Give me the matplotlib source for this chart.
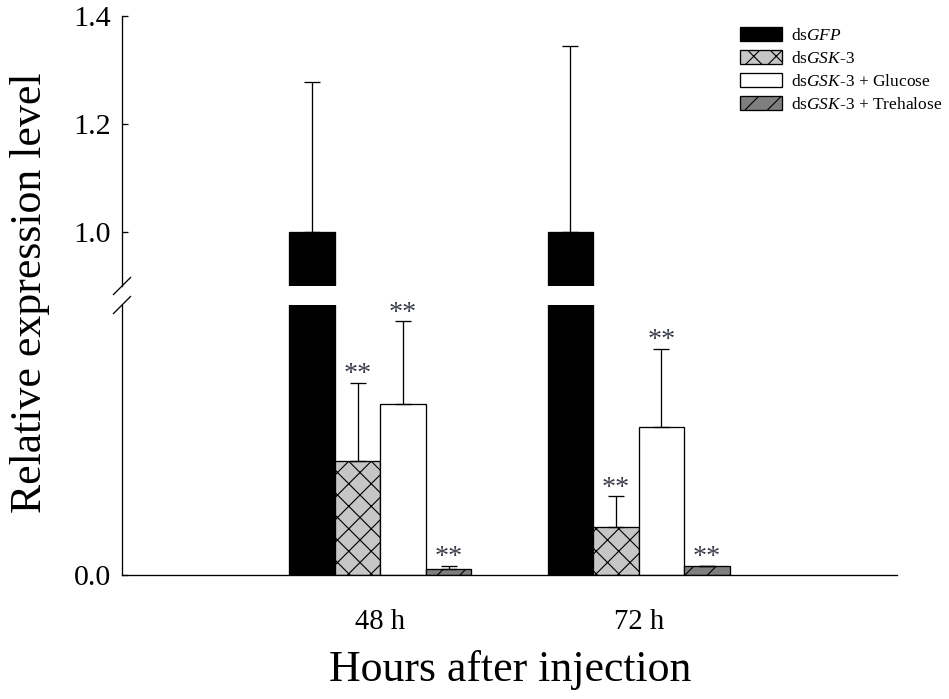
import matplotlib
matplotlib.use("Agg")
import matplotlib.pyplot as plt
import numpy as np

plt.rcParams['font.family'] = ['Liberation Serif', 'DejaVu Serif']
plt.rcParams['mathtext.fontset'] = 'custom'
plt.rcParams['mathtext.rm'] = 'Liberation Serif'
plt.rcParams['mathtext.it'] = 'Liberation Serif:italic'
plt.rcParams['hatch.linewidth'] = 0.6

# ---- data ----
timepoints = ["48 h", "72 h"]
series_names = ["ds$\\mathit{GFP}$", "ds$\\mathit{GSK}$-$\\mathit{3}$",
                "ds$\\mathit{GSK}$-$\\mathit{3}$ + Glucose",
                "ds$\\mathit{GSK}$-$\\mathit{3}$ + Trehalose"]
gfp = [1.0, 1.0]
gfp_err = [0.277, 0.345]
gsk = [0.0212, 0.0089]
gsk_err = [0.0144, 0.0057]
glucose = [0.0317, 0.0275]
glucose_err = [0.0153, 0.0144]
trehalose = [0.0011, 0.0017]
trehalose_err = [0.0006, 0.0000]
significance = ["", "**", "**", "**"]

values = [gfp, gsk, glucose, trehalose]
errors = [gfp_err, gsk_err, glucose_err, trehalose_err]
facecolors = ['black', '#c6c6c6', 'white', '#7f7f7f']
hatches = [None, 'xx', None, '//']

DPI = 135
W, H = 949, 699
fig = plt.figure(figsize=(W / DPI, H / DPI), dpi=DPI)

left = 122 / W
right = 897 / W
ax_top = fig.add_axes([left, 1 - 286 / H, right - left, (286 - 16) / H])
ax_bot = fig.add_axes([left, 1 - 575 / H, right - left, (575 - 305) / H])

x = np.arange(1, len(timepoints) + 1)
bw = 0.176
offsets = (np.arange(4) - 1.5) * bw

for ax in (ax_top, ax_bot):
    for i in range(4):
        ax.bar(x + offsets[i], values[i], width=bw, color=facecolors[i],
               edgecolor='black', linewidth=0.7, hatch=hatches[i], zorder=2)
        ax.errorbar(x + offsets[i], values[i],
                    yerr=[np.zeros(len(x)), errors[i]], fmt='none',
                    ecolor='black', elinewidth=0.7, capsize=4.4,
                    capthick=0.7, zorder=3)
    ax.set_xlim(0, 3)
    for s in ['top', 'right']:
        ax.spines[s].set_visible(False)
    for s in ax.spines.values():
        s.set_linewidth(0.7)
    ax.tick_params(axis='y', direction='in', length=3, width=0.7,
                   labelsize=16, pad=6)

ax_top.set_ylim(0.9, 1.4)
ax_top.set_yticks([1.0, 1.2, 1.4])
ax_top.set_yticklabels(["1.0", "1.2", "1.4"])
ax_top.spines['bottom'].set_visible(False)
ax_top.set_xticks([])

ax_bot.set_ylim(0, 0.05)
ax_bot.set_yticks([0.0])
ax_bot.set_yticklabels(["0.0"])
ax_bot.set_xticks(x)
ax_bot.set_xticklabels(timepoints)
ax_bot.tick_params(axis='x', length=0, labelsize=15.3, pad=18)

# significance stars
for i in range(1, 4):
    for j in range(len(x)):
        ax_bot.annotate(significance[i],
                        xy=(x[j] + offsets[i], values[i][j] + errors[i][j]),
                        xytext=(0, 0.8), textcoords='offset points',
                        ha='center', va='baseline', fontsize=15,
                        color='#3a3c48', zorder=4)

# break marks
d = 8.5 / W
dy = 8.5 / H
for yc in (1 - 286 / H, 1 - 305 / H):
    fig.add_artist(plt.Line2D([left - d, left + d], [yc - dy, yc + dy],
                              color='black', linewidth=0.7))

# axis labels
fig.text(30 / W, 1 - 293 / H, "Relative expression level", rotation=90,
         ha='center', va='center', fontsize=23.4)
fig.text((381 + 640) / 2 / W, 1 - 670 / H, "Hours after injection",
         ha='center', va='center', fontsize=23.4)

# legend
from matplotlib.patches import Patch
handles = [Patch(facecolor=facecolors[i], edgecolor='black', linewidth=0.7,
                 hatch=hatches[i]) for i in range(4)]
leg = fig.legend(handles, series_names, loc='upper left',
                 bbox_to_anchor=(733 / W, 1 - 20 / H), frameon=False,
                 fontsize=9.3, handlelength=2.4, handleheight=0.85,
                 labelspacing=0.35, handletextpad=0.5, borderaxespad=0)

fig.savefig("out.png", dpi=DPI)
